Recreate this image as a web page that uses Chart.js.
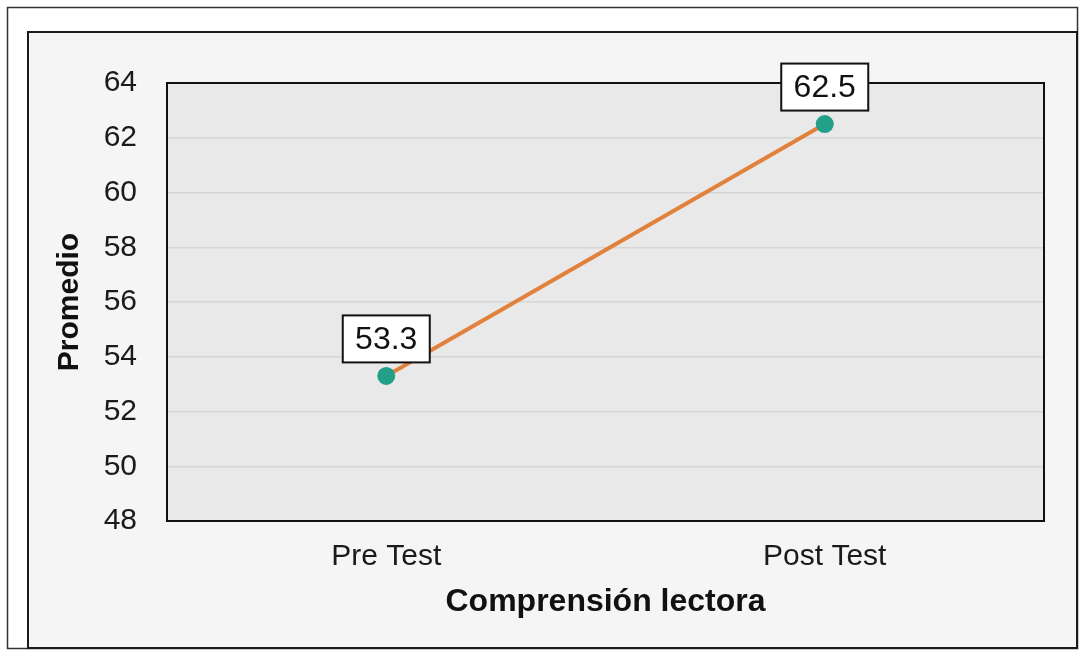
<!DOCTYPE html>
<html>
<head>
<meta charset="utf-8">
<script src="https://cdn.jsdelivr.net/npm/chart.js@4.4.1/dist/chart.umd.min.js"></script>
<style>
  html, body { margin: 0; padding: 0; background: #fff; }
  canvas { display: block; }
</style>
</head>
<body>
<canvas id="chart" width="1092" height="661"></canvas>
<script>
// --- Data ---
const categories = ['Pre Test', 'Post Test'];
const promedio = [53.3, 62.5];
const yTicks = [48, 50, 52, 54, 56, 58, 60, 62, 64];

const FONT = "'Liberation Sans', Arial, sans-serif";

// frames + plot background + value boxes
const framePlugin = {
    id: 'frame',
    beforeDraw(chart) {
        const ctx = chart.ctx;
        ctx.save();
        ctx.fillStyle = '#fff';
        ctx.fillRect(0, 0, chart.width, chart.height);
        // outer thin frame
        ctx.strokeStyle = '#333';
        ctx.lineWidth = 1.5;
        ctx.strokeRect(7.5, 7.5, 1070, 641);
        // inner box
        ctx.fillStyle = '#f5f5f5';
        ctx.fillRect(28, 32, 1049, 616);
        ctx.strokeStyle = '#1a1a1a';
        ctx.lineWidth = 2;
        ctx.strokeRect(28, 32, 1049, 616);
        // plot area
        const a = chart.chartArea;
        ctx.fillStyle = '#e9e9e9';
        ctx.fillRect(a.left, a.top, a.right - a.left, a.bottom - a.top);
        ctx.restore();
    },
    beforeDatasetsDraw(chart) {
        const ctx = chart.ctx, a = chart.chartArea;
        ctx.save();
        ctx.strokeStyle = '#111';
        ctx.lineWidth = 2;
        ctx.strokeRect(a.left, a.top, a.right - a.left, a.bottom - a.top);
        ctx.restore();
    },
    afterDatasetsDraw(chart) {
        const ctx = chart.ctx;
        const meta = chart.getDatasetMeta(0);
        ctx.save();
        ctx.font = '32px ' + FONT;
        ctx.textAlign = 'center';
        ctx.textBaseline = 'middle';
        meta.data.forEach((pt, i) => {
            const txt = promedio[i].toFixed(1);
            const w = 87, h = 47;
            const cx = pt.x, cy = pt.y - 37;
            ctx.fillStyle = '#fff';
            ctx.fillRect(cx - w / 2, cy - h / 2, w, h);
            ctx.strokeStyle = '#111';
            ctx.lineWidth = 2;
            ctx.strokeRect(cx - w / 2, cy - h / 2, w, h);
            ctx.fillStyle = '#111';
            ctx.fillText(txt, cx, cy + 1);
        });
        ctx.restore();
    }
};

new Chart(document.getElementById('chart'), {
    type: 'line',
    data: {
        labels: categories,
        datasets: [{
            data: promedio,
            borderColor: '#e2813c',
            borderWidth: 4,
            pointBackgroundColor: '#23a08a',
            pointBorderColor: '#23a08a',
            pointRadius: 7,
            tension: 0
        }]
    },
    options: {
        responsive: false,
        animation: false,
        layout: { padding: { left: 52, right: 48, top: 83, bottom: 40 } },
        plugins: { legend: { display: false }, tooltip: { enabled: false } },
        scales: {
            x: {
                offset: true,
                grid: { display: false, drawTicks: false },
                border: { display: false },
                ticks: { color: '#1a1a1a', font: { family: FONT, size: 30 }, padding: 18 },
                title: { display: true, text: 'Comprensión lectora', color: '#111',
                         font: { family: FONT, size: 32, weight: 'bold' }, padding: 0 },
                afterFit: (s) => { s.height = 100; }
            },
            y: {
                min: 48, max: 64,
                afterBuildTicks: (s) => { s.ticks = yTicks.map(v => ({ value: v })); },
                grid: { color: '#d6d6d6', lineWidth: 1.5, drawTicks: false },
                border: { display: false },
                ticks: { color: '#1a1a1a', font: { family: FONT, size: 30 }, padding: 30 },
                title: { display: true, text: 'Promedio', color: '#111',
                         font: { family: FONT, size: 30, weight: 'bold' }, padding: 0 },
                afterFit: (s) => { s.width = 115; }
            }
        }
    },
    plugins: [framePlugin]
});
</script>
</body>
</html>
